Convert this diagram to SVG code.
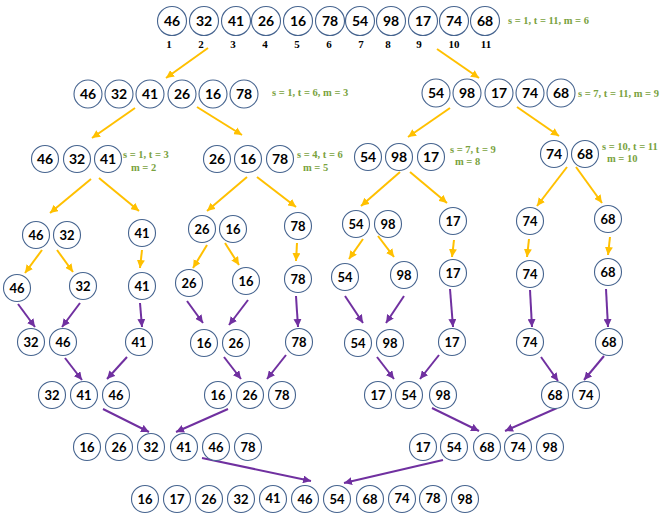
<svg xmlns="http://www.w3.org/2000/svg" width="669" height="518" viewBox="0 0 669 518">
<style>
  .bg{fill:#ffffff}
  .n circle{fill:#ffffff;stroke:#46648f;stroke-width:1.1}
  .n text{font-family:Lato,"Open Sans","Liberation Sans",sans-serif;font-weight:bold;font-size:14px;fill:#000;text-anchor:middle}
  .s text{font-size:13px}
  .idx{font-family:"Liberation Serif",serif;font-weight:bold;font-size:11px;fill:#000;text-anchor:middle}
  .lbl{font-family:"Liberation Serif",serif;font-weight:bold;font-size:10.5px;fill:#79a23e}
  .y{stroke:#ffc000;stroke-width:2;fill:none;marker-end:url(#ay)}
  .p{stroke:#7030a0;stroke-width:2;fill:none;marker-end:url(#ap)}
</style>
<defs>
  <marker id="ay" markerUnits="userSpaceOnUse" markerWidth="9" markerHeight="8" refX="8" refY="4" orient="auto"><path d="M0,0 L8,4 L0,8 z" fill="#ffc000"/></marker>
  <marker id="ap" markerUnits="userSpaceOnUse" markerWidth="9" markerHeight="8" refX="8" refY="4" orient="auto"><path d="M0,0 L8,4 L0,8 z" fill="#7030a0"/></marker>
</defs>
<rect class="bg" x="0" y="0" width="669" height="518"/>

<g id="connectors">
  <line class="y" x1="208" y1="48" x2="166" y2="78"/>
  <line class="y" x1="437" y1="49" x2="479" y2="78"/>
  <line class="y" x1="135" y1="108" x2="92" y2="138"/>
  <line class="y" x1="197" y1="107" x2="242" y2="135"/>
  <line class="y" x1="450" y1="108" x2="408" y2="137"/>
  <line class="y" x1="517" y1="107" x2="559" y2="136"/>
  <line class="y" x1="91" y1="179" x2="50" y2="213"/>
  <line class="y" x1="99" y1="178" x2="139" y2="211"/>
  <line class="y" x1="247" y1="177" x2="207" y2="211"/>
  <line class="y" x1="257" y1="177" x2="296" y2="207"/>
  <line class="y" x1="400" y1="172" x2="361" y2="206"/>
  <line class="y" x1="410" y1="172" x2="447" y2="203"/>
  <line class="y" x1="567" y1="167" x2="537" y2="206"/>
  <line class="y" x1="576" y1="167" x2="602" y2="203"/>
  <line class="y" x1="42" y1="250" x2="25" y2="273"/>
  <line class="y" x1="57" y1="250" x2="73" y2="272"/>
  <line class="y" x1="142" y1="250" x2="140" y2="268"/>
  <line class="y" x1="207" y1="245" x2="193" y2="268"/>
  <line class="y" x1="225" y1="243" x2="239" y2="265"/>
  <line class="y" x1="297" y1="243" x2="296" y2="261"/>
  <line class="y" x1="363" y1="239" x2="349" y2="259"/>
  <line class="y" x1="378" y1="236" x2="394" y2="257"/>
  <line class="y" x1="454" y1="240" x2="452" y2="257"/>
  <line class="y" x1="529" y1="239" x2="527" y2="257"/>
  <line class="y" x1="610" y1="237" x2="608" y2="255"/>

  <line class="p" x1="18" y1="304" x2="35" y2="327"/>
  <line class="p" x1="80" y1="303" x2="62" y2="327"/>
  <line class="p" x1="140" y1="303" x2="142" y2="327"/>
  <line class="p" x1="187" y1="301" x2="203" y2="323"/>
  <line class="p" x1="248" y1="300" x2="229" y2="325"/>
  <line class="p" x1="296" y1="296" x2="298" y2="327"/>
  <line class="p" x1="345" y1="296" x2="363" y2="323"/>
  <line class="p" x1="404" y1="296" x2="386" y2="323"/>
  <line class="p" x1="450" y1="289" x2="453" y2="327"/>
  <line class="p" x1="530" y1="290" x2="532" y2="327"/>
  <line class="p" x1="606" y1="289" x2="608" y2="327"/>

  <line class="p" x1="65" y1="358" x2="82" y2="380"/>
  <line class="p" x1="127" y1="357" x2="107" y2="379"/>
  <line class="p" x1="224" y1="357" x2="241" y2="379"/>
  <line class="p" x1="286" y1="355" x2="267" y2="379"/>
  <line class="p" x1="377" y1="357" x2="394" y2="379"/>
  <line class="p" x1="439" y1="355" x2="420" y2="379"/>
  <line class="p" x1="541" y1="357" x2="558" y2="381"/>
  <line class="p" x1="604" y1="356" x2="584" y2="380"/>

  <line class="p" x1="103" y1="409" x2="149" y2="432"/>
  <line class="p" x1="228" y1="409" x2="176" y2="432"/>
  <line class="p" x1="432" y1="408" x2="479" y2="431"/>
  <line class="p" x1="557" y1="408" x2="505" y2="431"/>

  <line class="p" x1="202" y1="458" x2="311" y2="481"/>
  <line class="p" x1="443" y1="460" x2="344" y2="483"/>
</g>

<!-- Row 1 -->
<g id="r1" class="n">
  <g id="r1_46"><circle cx="172" cy="21" r="14.5"/><text x="172" y="26">46</text></g>
  <g id="r1_32"><circle cx="204" cy="21" r="14.5"/><text x="204" y="26">32</text></g>
  <g id="r1_41"><circle cx="236" cy="21" r="14.5"/><text x="236" y="26">41</text></g>
  <g id="r1_26"><circle cx="266" cy="21" r="14.5"/><text x="266" y="26">26</text></g>
  <g id="r1_16"><circle cx="298" cy="21" r="14.5"/><text x="298" y="26">16</text></g>
  <g id="r1_78"><circle cx="330" cy="21" r="14.5"/><text x="330" y="26">78</text></g>
  <g id="r1_54"><circle cx="360" cy="21" r="14.5"/><text x="360" y="26">54</text></g>
  <g id="r1_98"><circle cx="391" cy="21" r="14.5"/><text x="391" y="26">98</text></g>
  <g id="r1_17"><circle cx="423" cy="21" r="14.5"/><text x="423" y="26">17</text></g>
  <g id="r1_74"><circle cx="454" cy="21" r="14.5"/><text x="454" y="26">74</text></g>
  <g id="r1_68"><circle cx="485" cy="21" r="14.5"/><text x="485" y="26">68</text></g>
</g>
<g id="indices">
  <text class="idx" x="169" y="48">1</text>
  <text class="idx" x="201" y="48">2</text>
  <text class="idx" x="233" y="48">3</text>
  <text class="idx" x="265" y="48">4</text>
  <text class="idx" x="297" y="48">5</text>
  <text class="idx" x="329" y="48">6</text>
  <text class="idx" x="361" y="48">7</text>
  <text class="idx" x="388" y="48">8</text>
  <text class="idx" x="419" y="48">9</text>
  <text class="idx" x="454" y="48">10</text>
  <text class="idx" x="486" y="48">11</text>
</g>
<g id="labels">
  <text class="lbl" x="508" y="24">s = 1, t = 11, m = 6</text>
  <text class="lbl" x="272" y="96">s = 1, t = 6, m = 3</text>
  <text class="lbl" x="578" y="97">s = 7, t = 11, m = 9</text>
  <text class="lbl" x="123" y="158">s = 1, t = 3</text>
  <text class="lbl" x="131" y="171">m = 2</text>
  <text class="lbl" x="297" y="158">s = 4, t = 6</text>
  <text class="lbl" x="303" y="171">m = 5</text>
  <text class="lbl" x="450" y="153">s = 7, t = 9</text>
  <text class="lbl" x="455" y="165">m = 8</text>
  <text class="lbl" x="602" y="150">s = 10, t = 11</text>
  <text class="lbl" x="607" y="162">m = 10</text>
</g>

<!-- Row 2 -->
<g id="r2" class="n">
  <g id="r2_46"><circle cx="88" cy="94" r="14"/><text x="88" y="99">46</text></g>
  <g id="r2_32"><circle cx="119" cy="94" r="14"/><text x="119" y="99">32</text></g>
  <g id="r2_41"><circle cx="150" cy="94" r="14"/><text x="150" y="99">41</text></g>
  <g id="r2_26"><circle cx="182" cy="94" r="14"/><text x="182" y="99">26</text></g>
  <g id="r2_16"><circle cx="213" cy="94" r="14"/><text x="213" y="99">16</text></g>
  <g id="r2_78"><circle cx="244" cy="94" r="14"/><text x="244" y="99">78</text></g>
  <g id="r2_54"><circle cx="436" cy="93" r="14"/><text x="436" y="98">54</text></g>
  <g id="r2_98"><circle cx="467" cy="93" r="14"/><text x="467" y="98">98</text></g>
  <g id="r2_17"><circle cx="499" cy="93" r="14"/><text x="499" y="98">17</text></g>
  <g id="r2_74"><circle cx="530" cy="93" r="14"/><text x="530" y="98">74</text></g>
  <g id="r2_68"><circle cx="561" cy="93" r="14"/><text x="561" y="98">68</text></g>
</g>

<!-- Row 3 -->
<g id="r3" class="n">
  <g id="r3_46"><circle cx="45" cy="159" r="13.5"/><text x="45" y="164">46</text></g>
  <g id="r3_32"><circle cx="77" cy="159" r="13.5"/><text x="77" y="164">32</text></g>
  <g id="r3_41"><circle cx="108" cy="159" r="13.5"/><text x="108" y="164">41</text></g>
  <g id="r3_26"><circle cx="217" cy="159" r="13.5"/><text x="217" y="164">26</text></g>
  <g id="r3_16"><circle cx="248" cy="159" r="13.5"/><text x="248" y="164">16</text></g>
  <g id="r3_78"><circle cx="280" cy="159" r="13.5"/><text x="280" y="164">78</text></g>
  <g id="r3_54"><circle cx="368" cy="157" r="13.5"/><text x="368" y="162">54</text></g>
  <g id="r3_98"><circle cx="399" cy="157" r="13.5"/><text x="399" y="162">98</text></g>
  <g id="r3_17"><circle cx="431" cy="157" r="13.5"/><text x="431" y="162">17</text></g>
  <g id="r3_74"><circle cx="554" cy="154" r="13.5"/><text x="554" y="159">74</text></g>
  <g id="r3_68"><circle cx="585" cy="154" r="13.5"/><text x="585" y="159">68</text></g>
</g>

<!-- Row 4 -->
<g id="r4" class="n s">
  <g id="r4_46"><circle cx="36" cy="235" r="13.5"/><text x="36" y="240">46</text></g>
  <g id="r4_32"><circle cx="67" cy="235" r="13.5"/><text x="67" y="240">32</text></g>
  <g id="r4_41"><circle cx="142" cy="233" r="13.5"/><text x="142" y="238">41</text></g>
  <g id="r4_26"><circle cx="202" cy="229" r="13.5"/><text x="202" y="234">26</text></g>
  <g id="r4_16"><circle cx="233" cy="229" r="13.5"/><text x="233" y="234">16</text></g>
  <g id="r4_78"><circle cx="298" cy="226" r="13.5"/><text x="298" y="231">78</text></g>
  <g id="r4_54"><circle cx="356" cy="224" r="13.5"/><text x="356" y="229">54</text></g>
  <g id="r4_98"><circle cx="388" cy="224" r="13.5"/><text x="388" y="229">98</text></g>
  <g id="r4_17"><circle cx="453" cy="221" r="13.5"/><text x="453" y="226">17</text></g>
  <g id="r4_74"><circle cx="530" cy="221" r="13.5"/><text x="530" y="226">74</text></g>
  <g id="r4_68"><circle cx="608" cy="219" r="13.5"/><text x="608" y="224">68</text></g>
</g>

<!-- Row 5 -->
<g id="r5" class="n s">
  <g id="r5_46"><circle cx="17" cy="288" r="13.5"/><text x="17" y="293">46</text></g>
  <g id="r5_32"><circle cx="83" cy="286" r="13.5"/><text x="83" y="291">32</text></g>
  <g id="r5_41"><circle cx="142" cy="286" r="13.5"/><text x="142" y="291">41</text></g>
  <g id="r5_26"><circle cx="189" cy="283" r="13.5"/><text x="189" y="288">26</text></g>
  <g id="r5_16"><circle cx="246" cy="281" r="13.5"/><text x="246" y="286">16</text></g>
  <g id="r5_78"><circle cx="298" cy="279" r="13.5"/><text x="298" y="284">78</text></g>
  <g id="r5_54"><circle cx="345" cy="277" r="13.5"/><text x="345" y="282">54</text></g>
  <g id="r5_98"><circle cx="404" cy="275" r="13.5"/><text x="404" y="280">98</text></g>
  <g id="r5_17"><circle cx="453" cy="273" r="13.5"/><text x="453" y="278">17</text></g>
  <g id="r5_74"><circle cx="530" cy="274" r="13.5"/><text x="530" y="279">74</text></g>
  <g id="r5_68"><circle cx="608" cy="272" r="13.5"/><text x="608" y="277">68</text></g>
</g>

<!-- Row 6 -->
<g id="r6" class="n s">
  <g id="r6_32"><circle cx="31" cy="342" r="13.5"/><text x="31" y="347">32</text></g>
  <g id="r6_46"><circle cx="63" cy="342" r="13.5"/><text x="63" y="347">46</text></g>
  <g id="r6_41"><circle cx="139" cy="342" r="13.5"/><text x="139" y="347">41</text></g>
  <g id="r6_16"><circle cx="204" cy="343" r="13.5"/><text x="204" y="348">16</text></g>
  <g id="r6_26"><circle cx="236" cy="343" r="13.5"/><text x="236" y="348">26</text></g>
  <g id="r6_78"><circle cx="299" cy="342" r="13.5"/><text x="299" y="347">78</text></g>
  <g id="r6_54"><circle cx="358" cy="343" r="13.5"/><text x="358" y="348">54</text></g>
  <g id="r6_98"><circle cx="390" cy="343" r="13.5"/><text x="390" y="348">98</text></g>
  <g id="r6_17"><circle cx="452" cy="342" r="13.5"/><text x="452" y="347">17</text></g>
  <g id="r6_74"><circle cx="530" cy="342" r="13.5"/><text x="530" y="347">74</text></g>
  <g id="r6_68"><circle cx="609" cy="342" r="13.5"/><text x="609" y="347">68</text></g>
</g>

<!-- Row 7 -->
<g id="r7" class="n s">
  <g id="r7_32"><circle cx="52" cy="395" r="13.5"/><text x="52" y="400">32</text></g>
  <g id="r7_41"><circle cx="84" cy="395" r="13.5"/><text x="84" y="400">41</text></g>
  <g id="r7_46"><circle cx="116" cy="395" r="13.5"/><text x="116" y="400">46</text></g>
  <g id="r7_16"><circle cx="218" cy="395" r="13.5"/><text x="218" y="400">16</text></g>
  <g id="r7_26"><circle cx="250" cy="395" r="13.5"/><text x="250" y="400">26</text></g>
  <g id="r7_78"><circle cx="282" cy="395" r="13.5"/><text x="282" y="400">78</text></g>
  <g id="r7_17"><circle cx="378" cy="395" r="13.5"/><text x="378" y="400">17</text></g>
  <g id="r7_54"><circle cx="409" cy="395" r="13.5"/><text x="409" y="400">54</text></g>
  <g id="r7_98"><circle cx="443" cy="395" r="13.5"/><text x="443" y="400">98</text></g>
  <g id="r7_68"><circle cx="555" cy="395" r="13.5"/><text x="555" y="400">68</text></g>
  <g id="r7_74"><circle cx="586" cy="395" r="13.5"/><text x="586" y="400">74</text></g>
</g>

<!-- Row 8 -->
<g id="r8" class="n s">
  <g id="r8_16"><circle cx="87" cy="447" r="13.5"/><text x="87" y="452">16</text></g>
  <g id="r8_26"><circle cx="119" cy="447" r="13.5"/><text x="119" y="452">26</text></g>
  <g id="r8_32"><circle cx="151" cy="447" r="13.5"/><text x="151" y="452">32</text></g>
  <g id="r8_41"><circle cx="184" cy="447" r="13.5"/><text x="184" y="452">41</text></g>
  <g id="r8_46"><circle cx="216" cy="447" r="13.5"/><text x="216" y="452">46</text></g>
  <g id="r8_78"><circle cx="248" cy="447" r="13.5"/><text x="248" y="452">78</text></g>
  <g id="r8_17"><circle cx="423" cy="447" r="13.5"/><text x="423" y="452">17</text></g>
  <g id="r8_54"><circle cx="454" cy="447" r="13.5"/><text x="454" y="452">54</text></g>
  <g id="r8_68"><circle cx="487" cy="447" r="13.5"/><text x="487" y="452">68</text></g>
  <g id="r8_74"><circle cx="518" cy="447" r="13.5"/><text x="518" y="452">74</text></g>
  <g id="r8_98"><circle cx="550" cy="447" r="13.5"/><text x="550" y="452">98</text></g>
</g>

<!-- Row 9 -->
<g id="r9" class="n s">
  <g id="r9_16"><circle cx="145" cy="499" r="13.5"/><text x="145" y="504">16</text></g>
  <g id="r9_17"><circle cx="177" cy="499" r="13.5"/><text x="177" y="504">17</text></g>
  <g id="r9_26"><circle cx="209" cy="499" r="13.5"/><text x="209" y="504">26</text></g>
  <g id="r9_32"><circle cx="241" cy="499" r="13.5"/><text x="241" y="504">32</text></g>
  <g id="r9_41"><circle cx="273" cy="499" r="13.5"/><text x="273" y="503">41</text></g>
  <g id="r9_46"><circle cx="305" cy="499" r="13.5"/><text x="305" y="504">46</text></g>
  <g id="r9_54"><circle cx="337" cy="499" r="13.5"/><text x="337" y="504">54</text></g>
  <g id="r9_68"><circle cx="370" cy="499" r="13.5"/><text x="370" y="504">68</text></g>
  <g id="r9_74"><circle cx="402" cy="499" r="13.5"/><text x="402" y="503">74</text></g>
  <g id="r9_78"><circle cx="433" cy="499" r="13.5"/><text x="433" y="503">78</text></g>
  <g id="r9_98"><circle cx="465" cy="499" r="13.5"/><text x="465" y="504">98</text></g>
</g>
</svg>
